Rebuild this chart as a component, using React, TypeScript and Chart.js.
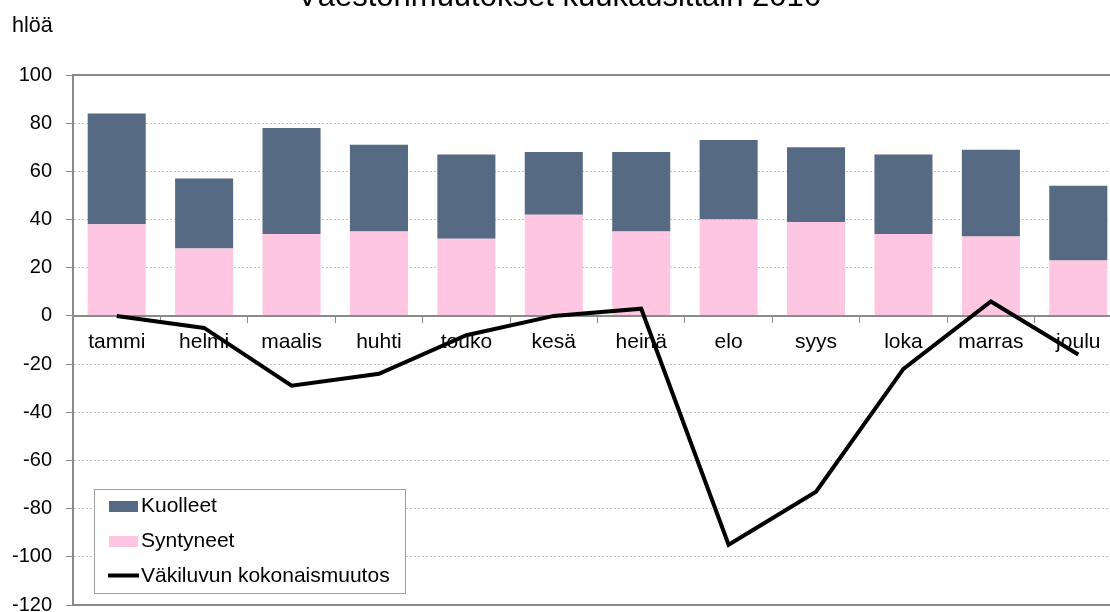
import React, { useEffect, useRef } from 'react';
import { Chart, registerables } from 'chart.js';

Chart.register(...registerables);

const titleText = 'Väestönmuutokset kuukausittain 2016';
const unitText = 'hlöä';
const months = ['tammi', 'helmi', 'maalis', 'huhti', 'touko', 'kesä', 'heinä', 'elo', 'syys', 'loka', 'marras', 'joulu'];
const syntyneet = [38, 28, 34, 35, 32, 42, 35, 40, 39, 34, 33, 23];
const kuolleet = [46, 29, 44, 36, 35, 26, 33, 33, 31, 33, 36, 31];
const muutos = [0, -5, -29, -24, -8, 0, 3, -95, -73, -22, 6, -16];
const yMin = -120;
const yMax = 100;
const yStep = 20;

const FONT = '"Liberation Sans", Arial, sans-serif';
const SLATE = '#566a83';
const PINK = '#ffc6e2';
const AXIS = '#8a8a8a';

const decor = {
  id: 'decor',
  beforeDatasetDraw(chart: any, args: any) {
    const ds = chart.data.datasets[args.index];
    if (ds.type !== 'line') return;
    const { ctx, chartArea } = chart;
    const y0 = Math.round(chart.scales.y.getPixelForValue(0));
    ctx.save();
    ctx.strokeStyle = AXIS;
    ctx.lineWidth = 2;
    ctx.beginPath();
    ctx.moveTo(chartArea.left, y0);
    ctx.lineTo(chartArea.right, y0);
    ctx.stroke();
    ctx.restore();
  },
  afterDraw(chart: any) {
    const { ctx, chartArea } = chart;
    const { left, right, top, bottom } = chartArea;
    ctx.save();
    ctx.strokeStyle = AXIS;
    ctx.lineWidth = 2;
    ctx.beginPath();
    ctx.moveTo(left, top);
    ctx.lineTo(right, top);
    ctx.moveTo(left, bottom);
    ctx.lineTo(right, bottom);
    ctx.stroke();

    // title (partly cut off at the top)
    ctx.fillStyle = '#000';
    ctx.font = `31px ${FONT}`;
    ctx.textAlign = 'center';
    ctx.textBaseline = 'alphabetic';
    ctx.fillText(titleText, 559, 6);

    // unit
    ctx.font = `21.5px ${FONT}`;
    ctx.textAlign = 'left';
    ctx.fillText(unitText, 12, 32);

    // legend
    const ds = chart.data.datasets;
    const kuol = ds.find((d: any) => d.label === 'Kuolleet');
    const synt = ds.find((d: any) => d.label === 'Syntyneet');
    const line = ds.find((d: any) => d.type === 'line');
    ctx.fillStyle = '#fff';
    ctx.fillRect(94.5, 489.5, 311, 104);
    ctx.strokeStyle = '#a0a0a0';
    ctx.lineWidth = 1;
    ctx.strokeRect(94.5, 489.5, 311, 104);
    ctx.font = `21px ${FONT}`;
    ctx.fillStyle = kuol.backgroundColor;
    ctx.fillRect(109, 501, 29, 11);
    ctx.fillStyle = synt.backgroundColor;
    ctx.fillRect(109, 536, 29, 11);
    ctx.strokeStyle = line.borderColor;
    ctx.lineWidth = 4;
    ctx.beginPath();
    ctx.moveTo(108, 575.5);
    ctx.lineTo(139, 575.5);
    ctx.stroke();
    ctx.fillStyle = '#000';
    ctx.fillText(kuol.label, 141, 512);
    ctx.fillText(synt.label, 141, 547);
    ctx.fillText(line.label, 141, 582);
    ctx.restore();
  },
};

export default function App() {
  const ref = useRef<HTMLCanvasElement>(null);
  useEffect(() => {
    const chart = new Chart(ref.current as HTMLCanvasElement, {
      type: 'bar',
      data: {
        labels: months,
        datasets: [
          {
            type: 'bar',
            label: 'Syntyneet',
            data: syntyneet,
            backgroundColor: PINK,
            borderWidth: 0,
            stack: 'v',
            barPercentage: 0.664,
            categoryPercentage: 1,
          },
          {
            type: 'bar',
            label: 'Kuolleet',
            data: kuolleet,
            backgroundColor: SLATE,
            borderWidth: 0,
            stack: 'v',
            barPercentage: 0.664,
            categoryPercentage: 1,
          },
          {
            type: 'line',
            label: 'Väkiluvun kokonaismuutos',
            data: muutos,
            borderColor: '#000',
            backgroundColor: '#000',
            borderWidth: 4,
            pointRadius: 0,
            tension: 0,
            fill: false,
            stack: 'net',
            order: -1,
          } as any,
        ],
      },
      options: {
        responsive: false,
        animation: false,
        devicePixelRatio: 1,
        layout: { padding: { top: 75, bottom: 7, left: 0, right: 0 } },
        plugins: {
          legend: { display: false },
          title: { display: false },
          tooltip: { enabled: false },
        },
        scales: {
          x: {
            position: { y: 0 } as any,
            stacked: true,
            offset: true,
            grid: {
              display: true,
              drawOnChartArea: false,
              drawTicks: true,
              tickLength: 7,
              tickColor: AXIS,
              tickWidth: 1,
              offset: true,
            },
            border: { display: false },
            ticks: {
              color: '#000',
              font: { family: FONT, size: 21 },
              padding: 7,
              maxRotation: 0,
              autoSkip: false,
            },
          },
          y: {
            stacked: true,
            min: yMin,
            max: yMax,
            ticks: {
              stepSize: yStep,
              color: '#000',
              font: { family: FONT, size: 20 },
              padding: 14,
            },
            grid: {
              color: '#c8c8c8',
              lineWidth: 1,
              drawTicks: true,
              tickLength: 7,
              tickColor: AXIS,
            },
            border: { display: true, color: AXIS, width: 2, dash: [2, 2] },
            afterFit: (s: any) => {
              s.width = 73;
              s.paddingTop = 0;
              s.paddingBottom = 0;
            },
          },
        },
      },
      plugins: [decor],
    });
    return () => chart.destroy();
  }, []);
  return (
    <div
      style={{
        position: 'fixed',
        left: 0,
        top: 0,
        width: 1110,
        height: 612,
        overflow: 'hidden',
        background: '#fff',
      }}
    >
      <canvas ref={ref} width={1122} height={612} style={{ display: 'block', width: 1122, height: 612 }} />
    </div>
  );
}
